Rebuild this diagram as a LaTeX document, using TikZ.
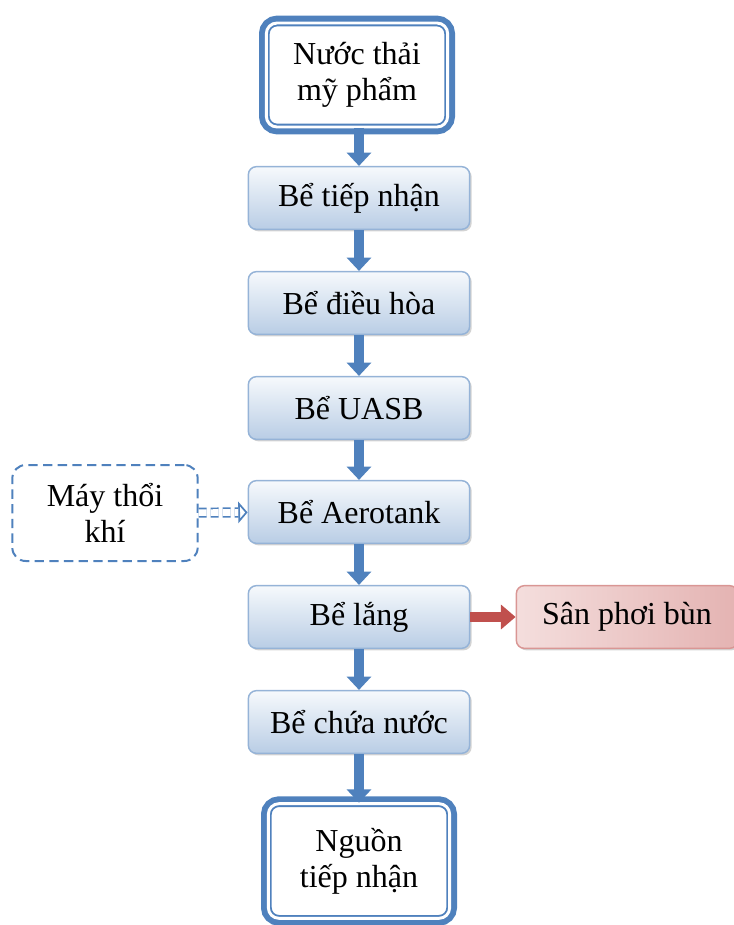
\documentclass[tikz,border=0pt]{standalone}
\usepackage{fontspec}
\setmainfont{Liberation Serif}
\usetikzlibrary{shapes, arrows.meta, shadows}
\definecolor{accent}{HTML}{4F81BD}
\definecolor{boxedge}{HTML}{95B3D7}
\definecolor{boxtop}{HTML}{F6F9FC}
\definecolor{boxbottom}{HTML}{B9CDE5}
\definecolor{sludge}{HTML}{C0504D}
\definecolor{sludgeedge}{HTML}{D99694}
\definecolor{sludgelight}{HTML}{F4DEDD}
\definecolor{sludgedark}{HTML}{E4B3B2}

\begin{document}
\begin{tikzpicture}[x=0.75pt, y=-0.75pt,
  every node/.style={font=\fontsize{24}{27}\selectfont, align=center, inner sep=0pt},
  stage/.style={draw=boxedge, line width=1.1pt, rounded corners=6pt, top color=boxtop, bottom color=boxbottom, minimum width=166pt, minimum height=47pt, drop shadow={shadow xshift=1.5pt, shadow yshift=-1.5pt, opacity=0.35}},
  endpoint/.style={draw=accent, line width=1.4pt, double=white, double distance=2.2pt, rounded corners=8pt, fill=white, preaction={draw=accent, line width=11pt}, minimum width=136pt, minimum height=78pt},
  aux/.style={draw=accent, line width=1.5pt, dash pattern=on 7pt off 4pt, rounded corners=10pt, minimum width=139pt, minimum height=72pt},
  sludgebox/.style={draw=sludgeedge, line width=1.1pt, rounded corners=6pt, left color=sludgelight, right color=sludgedark, minimum width=166pt, minimum height=47pt, drop shadow={shadow xshift=1.5pt, shadow yshift=-1.5pt, opacity=0.35}},
  flow/.style={draw=accent, line width=7.5pt, -{Triangle[width=18pt, length=10pt]}},
  sludgeflow/.style={draw=sludge, line width=8pt, -{Triangle[width=18pt, length=11pt]}},
  airflow/.style={draw=accent, line width=1.3pt, dash pattern=on 6pt off 3pt, double=white, double distance=5pt, -{Triangle[open, width=16pt, length=7pt]}}]
\useasboundingbox (0,0) rectangle (733,925);
% main line
\node[endpoint] (src) at (357,75) {Nước thải\\mỹ phẩm};
\node[stage] (recv) at (359,198) {Bể tiếp nhận};
\node[stage] (eq) at (359,303) {Bể điều hòa};
\node[stage] (uasb) at (359,408) {Bể UASB};
\node[stage] (aero) at (359,512) {Bể Aerotank};
\node[stage] (settle) at (359,617) {Bể lắng};
\node[stage] (store) at (359,722) {Bể chứa nước};
\node[endpoint, minimum height=86pt] (sink) at (359,861) {Nguồn\\tiếp nhận};
% side units
\node[aux] (blower) at (105,513) {Máy thổi\\khí};
\node[sludgebox] (dry) at (627,617) {Sân phơi bùn};
\foreach \from/\to in {src/recv, recv/eq, eq/uasb, uasb/aero, aero/settle, settle/store, store/sink}
  \draw[flow] (\from.south -| \to) -- (\to);
\draw[sludgeflow] (settle) -- (dry);
\draw[airflow] (blower) -- (aero);
\end{tikzpicture}
\end{document}
